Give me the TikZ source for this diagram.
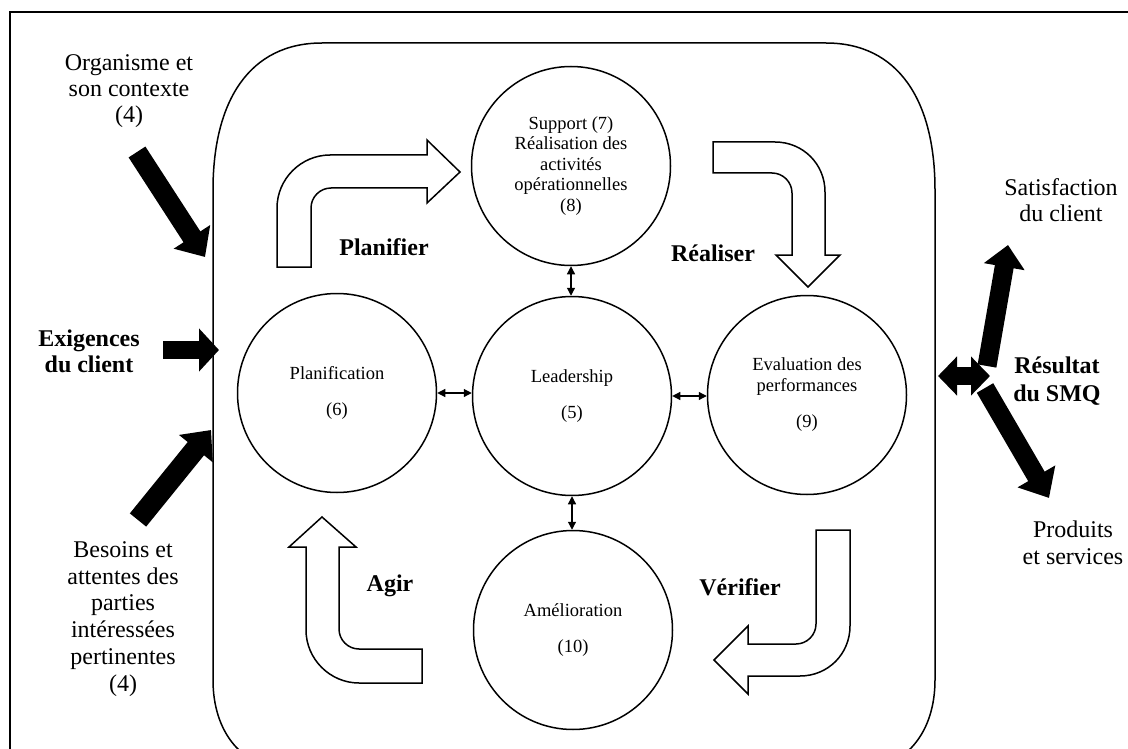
\documentclass[tikz,border=0pt]{standalone}
\usepackage{fontspec}
\setmainfont{Liberation Serif}
\usetikzlibrary{arrows.meta,calc}
\begin{document}
\begin{tikzpicture}[x=1pt,y=-1pt,
  circ/.style={circle, draw, line width=1.5pt, minimum size=199pt, inner sep=0pt, align=center, font=\fontsize{18.5}{20.5}\selectfont},
  lbl/.style={align=center, font=\fontsize{24}{26}\selectfont, inner sep=0pt},
  blbl/.style={align=center, font=\fontsize{24}{26}\selectfont\bfseries, inner sep=0pt},
  dbl/.style={{Triangle[length=8pt,width=8pt]}-{Triangle[length=8pt,width=8pt]}, line width=1.2pt},
  big/.style={line width=#1, -{Triangle[length=24pt,width=42pt]}},
  bigdbl/.style={line width=18pt, {Triangle[length=19pt,width=38pt]}-{Triangle[length=19pt,width=38pt]}},
  hollow/.style={draw, line width=1.5pt, fill=white, line join=miter}
]
\useasboundingbox (0,0) rectangle (1128,749);
% outer frame
\draw[line width=1.2pt] (10,760) -- (10,12) -- (1135,12);
% rounded container
\draw[line width=1.5pt] (213,680) -- (213,190) .. controls (213,100) and (250,43) .. (322,43) -- (826,43) .. controls (898,43) and (935,100) .. (935,190) -- (935,680) .. controls (935,730) and (908,772) .. (848,772) -- (300,772) .. controls (240,772) and (213,730) .. (213,680) -- cycle;

% circles
\node[circ] (sup) at (571,166) {Support (7)\\Réalisation des\\activités\\opérationnelles\\(8)};
\node[circ] (lead) at (572,396) {Leadership\\[16pt](5)};
\node[circ] (plan) at (337,393) {Planification\\[16pt](6)};
\node[circ] (eval) at (807,395) {Evaluation des\\performances\\[16pt](9)};
\node[circ] (amel) at (573,630) {Amélioration\\[16pt](10)};

% small double arrows
\draw[dbl] (sup.south) -- (sup.south |- lead.north);
\draw[dbl] (plan.east) -- (plan.east -| lead.west);
\draw[dbl] (lead.east) -- (lead.east -| eval.west);
\draw[dbl] (lead.south) -- (lead.south |- amel.north);

% hollow bent arrows
\path[hollow] (277,267) -- (277,208) .. controls (277,179) and (301,155) .. (330,155) -- (427,155) -- (427,140) -- (460,172) -- (427,203) -- (427,188) -- (331,188) .. controls (320,188) and (311,197) .. (311,208) -- (311,267) -- cycle;
\path[hollow] (713,142) -- (775,142) .. controls (803,142) and (825,164) .. (825,192) -- (825,255) -- (840,255) -- (808,287) -- (776,255) -- (792,255) -- (792,193) .. controls (792,182) and (783,173) .. (772,173) -- (713,173) -- cycle;
\path[hollow] (422,683) -- (359,683) .. controls (330,683) and (306,659) .. (306,630) -- (306,547) -- (289,547) -- (322,517) -- (356,547) -- (339,547) -- (339,629) .. controls (339,640) and (348,649) .. (359,649) -- (422,649) -- cycle;
\path[hollow] (816,530) -- (850,530) -- (850,626) .. controls (850,654) and (828,676) .. (800,676) -- (748,676) -- (748,694) -- (714,660) -- (748,626) -- (748,644) -- (796,644) .. controls (807,644) and (816,635) .. (816,624) -- cycle;

% cycle labels
\node[blbl] (planifier) at (384,247) {Planifier};
\node[blbl] (realiser) at (713,253) {Réaliser};
\node[blbl] (agir) at (390,586) {Agir};
\node[blbl] (verifier) at (740,587) {Vérifier};

% left labels
\node[lbl] (org) at (129,91) {Organisme et\\son contexte\\(4)};
\node[blbl] (exig) at (89,351) {Exigences\\du client};
\node[lbl, font=\fontsize{24}{26.8}\selectfont] (bes) at (123,619) {Besoins et\\attentes des\\parties\\intéressées\\pertinentes\\(4)};

% right labels
\node[lbl] (satis) at (1061,200) {Satisfaction\\du client};
\node[blbl, font=\fontsize{24}{28}\selectfont\bfseries] (res) at (1057,381) {Résultat\\du SMQ};
\node[lbl, font=\fontsize{24}{27}\selectfont] (prod) at (1073,543) {Produits\\et services};

% thick black arrows
\coordinate (orgT) at (137,152); \coordinate (orgH) at (205,257);
\coordinate (exT) at (163,350); \coordinate (exH) at (219,350);
\coordinate (beT) at (138,520); \coordinate (beH) at (211,430);
\coordinate (rL) at (938,376); \coordinate (rR) at (990,376);
\coordinate (upT) at (987,366); \coordinate (upH) at (1008,245);
\coordinate (dnT) at (985,388); \coordinate (dnH) at (1049,498);
\draw[big=20pt] (orgT) -- (orgH);
\draw[line width=18pt, -{Triangle[length=20pt,width=42pt]}] (exT) -- (exH);
\draw[big=21pt] (beT) -- (beH);
\draw[bigdbl] (rL) -- (rR);
\draw[line width=19pt, -{Triangle[length=22pt,width=40pt]}] (upT) -- (upH);
\draw[line width=19pt, -{Triangle[length=25pt,width=42pt]}] (dnT) -- (dnH);
\end{tikzpicture}
\end{document}
